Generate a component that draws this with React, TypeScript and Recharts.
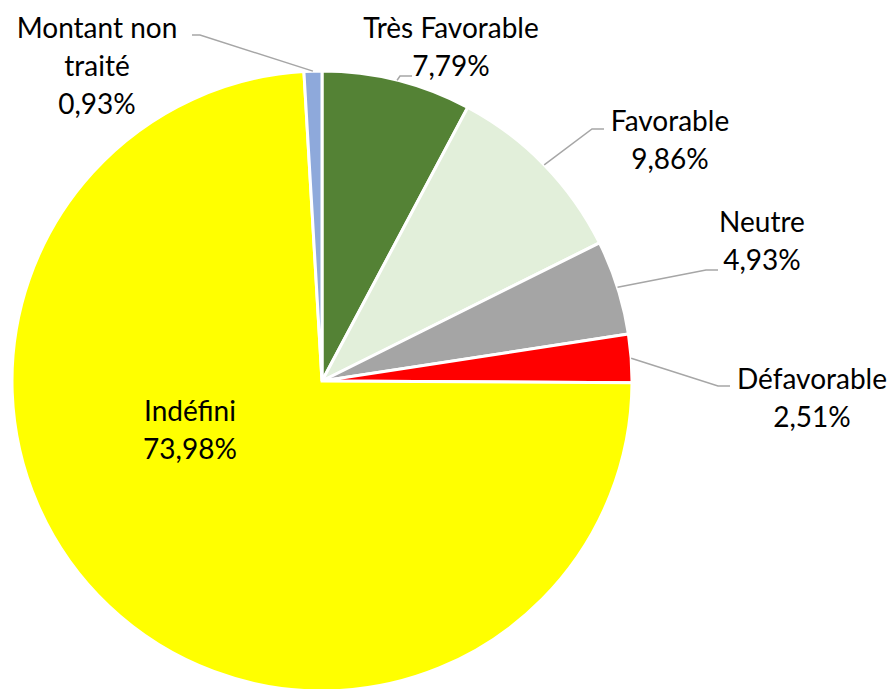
import React from "react";
import { PieChart, Pie, Cell } from "recharts";

const categories = ["Très Favorable", "Favorable", "Neutre", "Défavorable", "Indéfini", "Montant non traité"];
const values = [7.79, 9.86, 4.93, 2.51, 73.98, 0.93];
const colors = ["#548235", "#E2EFDA", "#A5A5A5", "#FF0000", "#FFFF00", "#8EA9DB"];

// label layout: text lines and centre position, end of leader line
const labelLines = [["Très Favorable"], ["Favorable"], ["Neutre"], ["Défavorable"], ["Indéfini"], ["Montant non", "traité"]];
const labelPos = [
  { x: 451, y: 27, ex: 412, ey: 76, elbow: -12, line: true },
  { x: 670, y: 120, ex: 604, ey: 129, elbow: -12, line: true },
  { x: 762, y: 221, ex: 718, ey: 270, elbow: -12, line: true },
  { x: 812, y: 378, ex: 730, ey: 386, elbow: -12, line: true },
  { x: 190, y: 410, ex: 0, ey: 0, elbow: 0, line: false },
  { x: 97, y: 27, ex: 192, ey: 35, elbow: 8, line: true },
];

const data = categories.map((name, i) => ({ name, value: values[i] }));

const FONT = "Lato, 'Open Sans', sans-serif";
const RAD = Math.PI / 180;

const renderLabel = (props: any) => {
  const { cx, cy, midAngle, outerRadius, index, value } = props;
  const p = labelPos[index];
  const lines = [...labelLines[index], value.toFixed(2).replace(".", ",") + "%"];
  const sx = cx + outerRadius * Math.cos(-midAngle * RAD);
  const sy = cy + outerRadius * Math.sin(-midAngle * RAD);
  const path = p.line ? `M${sx},${sy} L${p.ex + p.elbow},${p.ey} L${p.ex},${p.ey}` : "";
  return (
    <g key={`lbl-${index}`}>
      {p.line && <path d={path} stroke="#A6A6A6" strokeWidth={1.5} fill="none" />}
      {lines.map((t, k) => (
        <text
          key={k}
          x={p.x}
          y={p.y + k * 38}
          textAnchor="middle"
          dominantBaseline="central"
          fill="#000"
          fontSize={28}
          fontFamily={FONT}
        >
          {t}
        </text>
      ))}
    </g>
  );
};

export default function App() {
  return (
    <div style={{ position: "absolute", left: 0, top: 0, width: 894, height: 689, background: "#fff" }}>
      <PieChart width={894} height={689} margin={{ top: 0, right: 0, bottom: 0, left: 0 }}>
        <Pie
          data={data}
          dataKey="value"
          nameKey="name"
          cx={322}
          cy={381}
          outerRadius={310}
          startAngle={90}
          endAngle={-270}
          stroke="#fff"
          strokeWidth={3}
          label={renderLabel}
          labelLine={false}
          isAnimationActive={false}
        >
          {data.map((d, i) => (
            <Cell key={d.name} fill={colors[i]} />
          ))}
        </Pie>
      </PieChart>
    </div>
  );
}
